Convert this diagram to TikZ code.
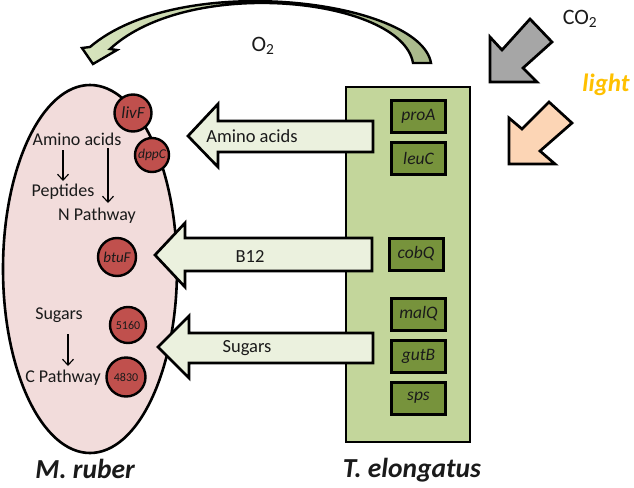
\documentclass[tikz,border=0pt]{standalone}
\usepackage{fontspec}
\setmainfont{Carlito}
\usetikzlibrary{arrows.meta,shapes.geometric}
\definecolor{pinkc}{HTML}{F2DCDB}
\definecolor{redc}{HTML}{C0504D}
\definecolor{rectc}{HTML}{C3D69B}
\definecolor{darkg}{HTML}{77933C}
\definecolor{arrowc}{HTML}{EBF1DE}
\definecolor{greyc}{HTML}{A6A6A6}
\definecolor{peach}{HTML}{FCD5B5}
\definecolor{lightc}{HTML}{FFC000}
\definecolor{otwoL}{HTML}{D7E4BD}
\definecolor{otwoR}{HTML}{A9B98A}
\definecolor{txt}{HTML}{1A1A1A}
\begin{document}
\begin{tikzpicture}[x=1pt,y=-1pt,
  every node/.style={text=txt},
  outl/.style={draw=black,line width=2.7pt,line join=miter},
  lbl/.style={font=\fontsize{18}{19}\selectfont,inner sep=0pt},
  albl/.style={font=\fontsize{18.5}{20}\selectfont,inner sep=0pt},
  gene/.style={draw=black,line width=3pt,fill=darkg,minimum width=54,minimum height=32,inner sep=0pt,font=\fontsize{17.5}{18}\selectfont\itshape},
  circ/.style={circle,draw=black,line width=2.4pt,fill=redc,inner sep=0pt},
  thin/.style={line width=1.1pt,-{Straight Barb[length=6pt,width=11pt]}},
  title/.style={font=\fontsize{27.5}{30}\selectfont\bfseries\itshape,inner sep=0pt}]
\useasboundingbox (0,0) rectangle (634,487);

% O2 curved arrow
\shade[left color=otwoL,middle color=otwoL,right color=otwoR,draw=black,line width=2.4pt,line join=miter]
  (431,63) .. controls (420,0) and (180,-30) .. (90,47) -- (82,48) -- (93,64) -- (117,50) -- (110,49)
  .. controls (190,-25) and (402,-2) .. (413,63) -- cycle;
\node[font=\fontsize{22}{24}\selectfont,inner sep=0pt] (o2) at (263,46) {O\textsubscript{2}};

% CO2 arrow
\path[outl,fill=greyc] (490,37) -- (490,82) -- (537,82) -- (523,68) -- (552,42) -- (530,19) -- (502,50) -- cycle;
\node[font=\fontsize{22}{24}\selectfont,inner sep=0pt] (co2) at (580,19) {CO\textsubscript{2}};

% light arrow
\path[outl,fill=peach] (509,118) -- (509,164) -- (555,164) -- (540,151) -- (572,123) -- (549,102) -- (522,129) -- cycle;
\node[font=\fontsize{25}{27}\selectfont\bfseries\itshape,text=lightc,inner sep=0pt] (light) at (606,85) {light};

% M. ruber cell
\node[ellipse,draw=black,line width=2.6pt,fill=pinkc,minimum width=174,minimum height=368,inner sep=0pt] (mr) at (90,269) {};
\node[circ,minimum size=37,font=\fontsize{17}{18}\selectfont\itshape] (livF) at (133,113) {livF};
\node[circ,minimum size=34,font=\fontsize{13.5}{14}\selectfont\itshape] (dppC) at (152,155) {dppC};
\node[circ,minimum size=38,font=\fontsize{15}{16}\selectfont\itshape] (btuF) at (117,257) {btuF};
\node[circ,minimum size=36,font=\fontsize{12}{13}\selectfont] (c5160) at (128,325) {5160};
\node[circ,minimum size=39,font=\fontsize{12}{13}\selectfont] (c4830) at (126,377) {4830};

\node[lbl] (aa) at (77,139) {Amino acids};
\node[lbl] (pep) at (63,192) {Peptides};
\node[lbl] (np) at (97,216) {N Pathway};
\node[lbl] (sug) at (59,315) {Sugars};
\node[lbl] (cp) at (63,378) {C Pathway};
\coordinate (a1) at (63,150); \coordinate (a2) at (63,181);
\coordinate (n1) at (108,148); \coordinate (n2) at (108,203);
\coordinate (s1) at (68,334); \coordinate (s2) at (68,366);
\draw[thin] (a1) -- (a2);
\draw[thin] (n1) -- (n2);
\draw[thin] (s1) -- (s2);

% T. elongatus
\node[draw=black,line width=2.7pt,fill=rectc,minimum width=124,minimum height=355,inner sep=0pt] (te) at (408,264.5) {};
\node[gene] (proA) at (418.5,116.5) {proA};
\node[gene] (leuC) at (418.5,158.5) {leuC};
\node[gene] (cobQ) at (416,254) {cobQ};
\node[gene] (malQ) at (418.5,314) {malQ};
\node[gene] (gutB) at (418.5,356.5) {gutB};
\node[gene] (sps) at (418.5,398) {sps};

% block arrows
\path[outl,fill=arrowc] (188,136) -- (218,104) -- (218,121) -- (373,121) -- (373,152) -- (218,152) -- (218,167) -- cycle;
\node[albl] (laa) at (252,136) {Amino acids};
\path[outl,fill=arrowc] (155,255) -- (185,223) -- (185,238) -- (372,238) -- (372,271) -- (185,271) -- (185,287) -- cycle;
\node[albl] (lb12) at (250,256) {B12};
\path[outl,fill=arrowc] (158,347) -- (189,316) -- (189,333) -- (373,333) -- (373,363) -- (189,363) -- (189,378) -- cycle;
\node[albl] (lsug) at (247,348) {Sugars};

% titles
\node[title,anchor=base] (tmr) at (85,478) {M. ruber};
\node[title,anchor=base] (tte) at (412,477) {T. elongatus};
\end{tikzpicture}
\end{document}
